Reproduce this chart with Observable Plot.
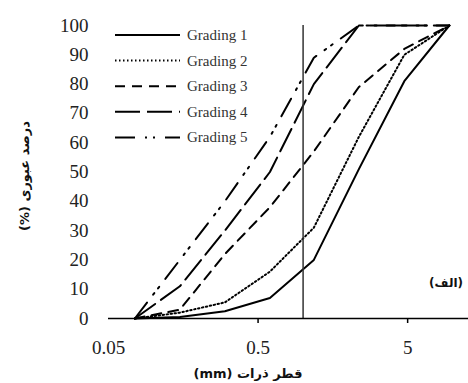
<!DOCTYPE html>
<html><head><meta charset="utf-8">
<script src="https://cdn.jsdelivr.net/npm/d3@7"></script>
<script src="https://cdn.jsdelivr.net/npm/@observablehq/plot@0.6"></script>
<style>
body{margin:0;background:#fff;}
#wrap{position:relative;width:468px;height:383px;overflow:hidden;}
.fa{position:absolute;font-family:"DejaVu Sans",sans-serif;font-weight:bold;color:#111;white-space:nowrap;}
</style></head><body><div id="wrap"></div>
<script>
// sieve sizes (mm) and percent passing per grading
const sieves = [0.075, 0.15, 0.3, 0.6, 1.18, 2.36, 4.75, 9.5];
const grading1 = [0, 0.5, 2.5, 7, 20, 51, 81, 100];
const grading2 = [0, 2, 5.5, 16, 31, 62, 90, 100];
const grading3 = [0, 3, 22, 38, 57, 79, 92, 100];
const grading4 = [0, 11, 30, 50, 80, 100, 100, 100];
const grading5 = [0, 20, 40, 62, 89, 100, 100, 100];
const seriesNames = ["Grading 1", "Grading 2", "Grading 3", "Grading 4", "Grading 5"];
const cutSize = 1.0;
const xTicks = [0.05, 0.5, 5];
const xTickLabels = ["0.05", "0.5", "5"];
const yTicks = [0, 10, 20, 30, 40, 50, 60, 70, 80, 90, 100];
const xTitle = "قطر ذرات (mm)";
const yTitle = "درصد عبوری (%)";
const panelTag = "(الف)";

const allSeries = [grading1, grading2, grading3, grading4, grading5];
const dashes = ["none", "1.5,2.5", "10,7", "25,7", "20,10,2,6,2,10"];

const lineMarks = allSeries.map((vals, i) =>
  Plot.line(sieves.map((s, j) => ({size: s, pass: vals[j]})),
    {x: "size", y: "pass", stroke: "#000", strokeWidth: 2, strokeDasharray: dashes[i]}));

const xTickData = xTicks.map((v, i) => ({v, label: xTickLabels[i]}));

const plot = Plot.plot({
  width: 468, height: 383,
  marginLeft: 108, marginRight: 0, marginTop: 25, marginBottom: 65,
  style: {fontFamily: "'Liberation Serif', serif", fontSize: "19px", color: "#222", background: "#fff"},
  x: {type: "log", domain: [0.05, 12.76]},
  y: {domain: [0, 100]},
  marks: [
    Plot.axisY({ticks: yTicks, tickSize: 0, tickPadding: 20, label: null}),
    Plot.axisX({ticks: xTicks.slice(1), tickSize: 5, tickFormat: () => "", label: null, stroke: "#000", strokeWidth: 1.5}),
    Plot.text(xTickData, {x: "v", text: "label", frameAnchor: "bottom", dy: 29, lineAnchor: "middle",
      fill: "#222", fontSize: 19, fontFamily: "'Liberation Serif', serif"}),
    ...lineMarks,
    Plot.ruleX([cutSize], {y1: 0, y2: 100, stroke: "#333", strokeWidth: 1.5}),
    Plot.ruleY([0], {stroke: "#000", strokeWidth: 1.5})
  ]
});
const wrap = document.getElementById("wrap");
wrap.appendChild(plot);
plot.style.position = "absolute"; plot.style.left = "0"; plot.style.top = "0";

// legend overlay
const leg = d3.select(wrap).append("svg")
  .style("position", "absolute").style("left", "110px").style("top", "22px")
  .attr("width", 160).attr("height", 130);
seriesNames.forEach((name, i) => {
  const y = 13 + i * 25.6;
  leg.append("line").attr("x1", 5).attr("x2", 70).attr("y1", y).attr("y2", y)
    .attr("stroke", "#000").attr("stroke-width", 2).attr("stroke-dasharray", dashes[i]);
  leg.append("text").attr("x", 77).attr("y", y + 5)
    .attr("font-family", "'Liberation Serif', serif").attr("font-size", 15).attr("fill", "#333")
    .text(name);
});

// titles
const xt = document.createElement("div");
xt.className = "fa"; xt.dir = "rtl"; xt.textContent = xTitle;
xt.style.fontSize = "13px"; xt.style.left = "248px"; xt.style.top = "373px";
xt.style.transform = "translate(-50%,-50%)";
wrap.appendChild(xt);

const yt = document.createElement("div");
yt.className = "fa"; yt.dir = "rtl"; yt.textContent = yTitle;
yt.style.fontSize = "13px"; yt.style.left = "24px"; yt.style.top = "176px";
yt.style.transform = "translate(-50%,-50%) rotate(-90deg)";
wrap.appendChild(yt);

const tag = document.createElement("div");
tag.className = "fa"; tag.dir = "rtl"; tag.textContent = panelTag;
tag.style.fontSize = "12px"; tag.style.right = "5px"; tag.style.top = "283px";
tag.style.transform = "translateY(-50%)";
wrap.appendChild(tag);
</script></body></html>
